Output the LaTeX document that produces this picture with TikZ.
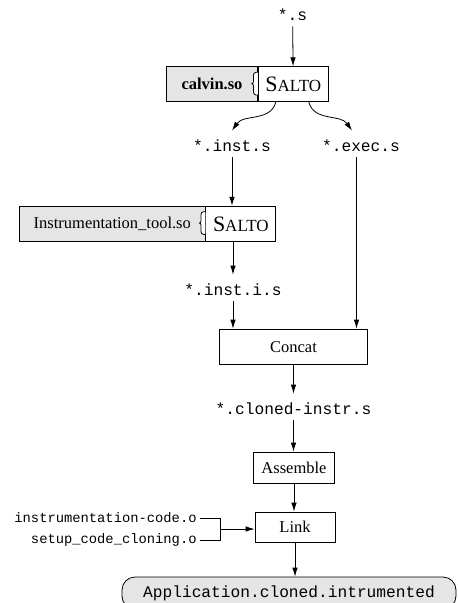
\documentclass[tikz,border=0pt]{standalone}
\usepackage{fontspec}
\setmainfont{Liberation Serif}
\setmonofont{Liberation Mono}
\usetikzlibrary{positioning}
\usetikzlibrary{arrows.meta}

\newcommand{\saltoname}{{\fontsize{22}{22}\selectfont S}{\fontsize{17}{17}\selectfont ALTO}}
\newcommand{\socket}[1]{\filldraw[fill=white] ([yshift=-6pt]#1.north west) -- ++(-2,0) to[out=180,in=90] ++(-2.5,-3) -- ++(0,-6.3) to[out=-90,in=0] ++(-1.5,-2) to[out=0,in=90] ++(1.5,-2) -- ++(0,-6.3) to[out=-90,in=180] ++(2.5,-3) -- ++(2,0);}

\tikzset{
  box/.style={draw=black, fill=white, font=\fontsize{16.5}{18}\selectfont, minimum height=35pt, inner sep=0pt},
  libbox/.style={box, fill=gray!20},
  fname/.style={font=\fontsize{16.2}{18}\selectfont\ttfamily, inner ysep=0pt, text height=20pt, text depth=6pt},
  oname/.style={font=\fontsize{13.8}{16}\selectfont\ttfamily, inner xsep=3pt, anchor=east},
  flow/.style={-{Latex[length=9pt,width=5.5pt]}},
}

\begin{document}
\begin{tikzpicture}[x=1pt, y=1pt, line width=0.8pt]
  \useasboundingbox (0,0) rectangle (458,-603);
  \clip (0,0) rectangle (458,-603);

  % calvin pass
  \node[fname] (S) at (292.5,-13) {*.s};
  \node[libbox, minimum width=91pt] (calvin) at (212,-84.2) {\textbf{calvin.so}\hspace{4pt}};
  \node[box, minimum width=70pt, anchor=west] (salto1) at (calvin.east) {\saltoname};
  \socket{salto1}

  \node[fname] (inst) at (232,-144) {*.inst.s};
  \node[fname] (exec) at (361,-144) {*.exec.s};

  \draw[flow] (S) -- (salto1);
  \draw[flow] ([xshift=-17.5pt]salto1.south) to[out=-105,in=55] (inst.north);
  \draw[flow] ([xshift=15.5pt]salto1.south) to[out=-75,in=125] ([xshift=-9pt]exec.north);

  % instrumentation pass
  \node[libbox, minimum width=185.5pt, minimum height=35.7pt] (tool) at (112.3,-224) {Instrumentation\_tool.so\hspace{16pt}};
  \node[box, minimum width=70pt, minimum height=35.7pt, anchor=west] (salto2) at (tool.east) {\saltoname};
  \socket{salto2}

  \node[fname] (insti) at (233,-288) {*.inst.i.s};

  \draw[flow] (inst.south) -- (inst.south |- salto2.north);
  \draw[flow] (insti.north |- salto2.south) -- (insti.north);

  % merge and build
  \node[box, minimum width=148pt, minimum height=35.5pt] (concat) at (293.5,-346.8) {Concat};
  \node[fname] (cloned) at (293.5,-407) {*.cloned-instr.s};
  \node[box, minimum width=81pt, minimum height=31pt] (assemble) at (294,-467.5) {Assemble};
  \node[box, minimum width=80pt, minimum height=30pt] (link) at (295,-527) {Link};

  \draw[flow] (insti.south) -- (insti.south |- concat.north);
  \draw[flow] ([xshift=-4.5pt]exec.south) -- ([xshift=-4.5pt]exec.south |- concat.north);
  \draw[flow] (concat.south) -- (concat.south |- cloned.north);
  \draw[flow] (cloned.south) -- (cloned.south |- assemble.north);
  \draw[flow] (assemble.south) -- (assemble.south |- link.north);

  % objects linked in
  \node[oname] (icode) at (200,-518) {instrumentation-code.o};
  \node[oname] (scc) at (200,-540) {setup\_code\_cloning.o};
  \coordinate (join) at (220,-529);
  \draw (icode.east) -| (join);
  \draw (scc.east) -| (join);
  \draw[flow] (join) -- (join -| link.west);

  \node[draw=black, fill=gray!20, rounded corners=13pt, minimum width=334pt, minimum height=32pt, font=\fontsize{16.2}{18}\selectfont\ttfamily] (app) at (289,-593) {Application.cloned.intrumented};
  \draw[flow] (link.south) -- (link.south |- app.north);
\end{tikzpicture}
\end{document}
